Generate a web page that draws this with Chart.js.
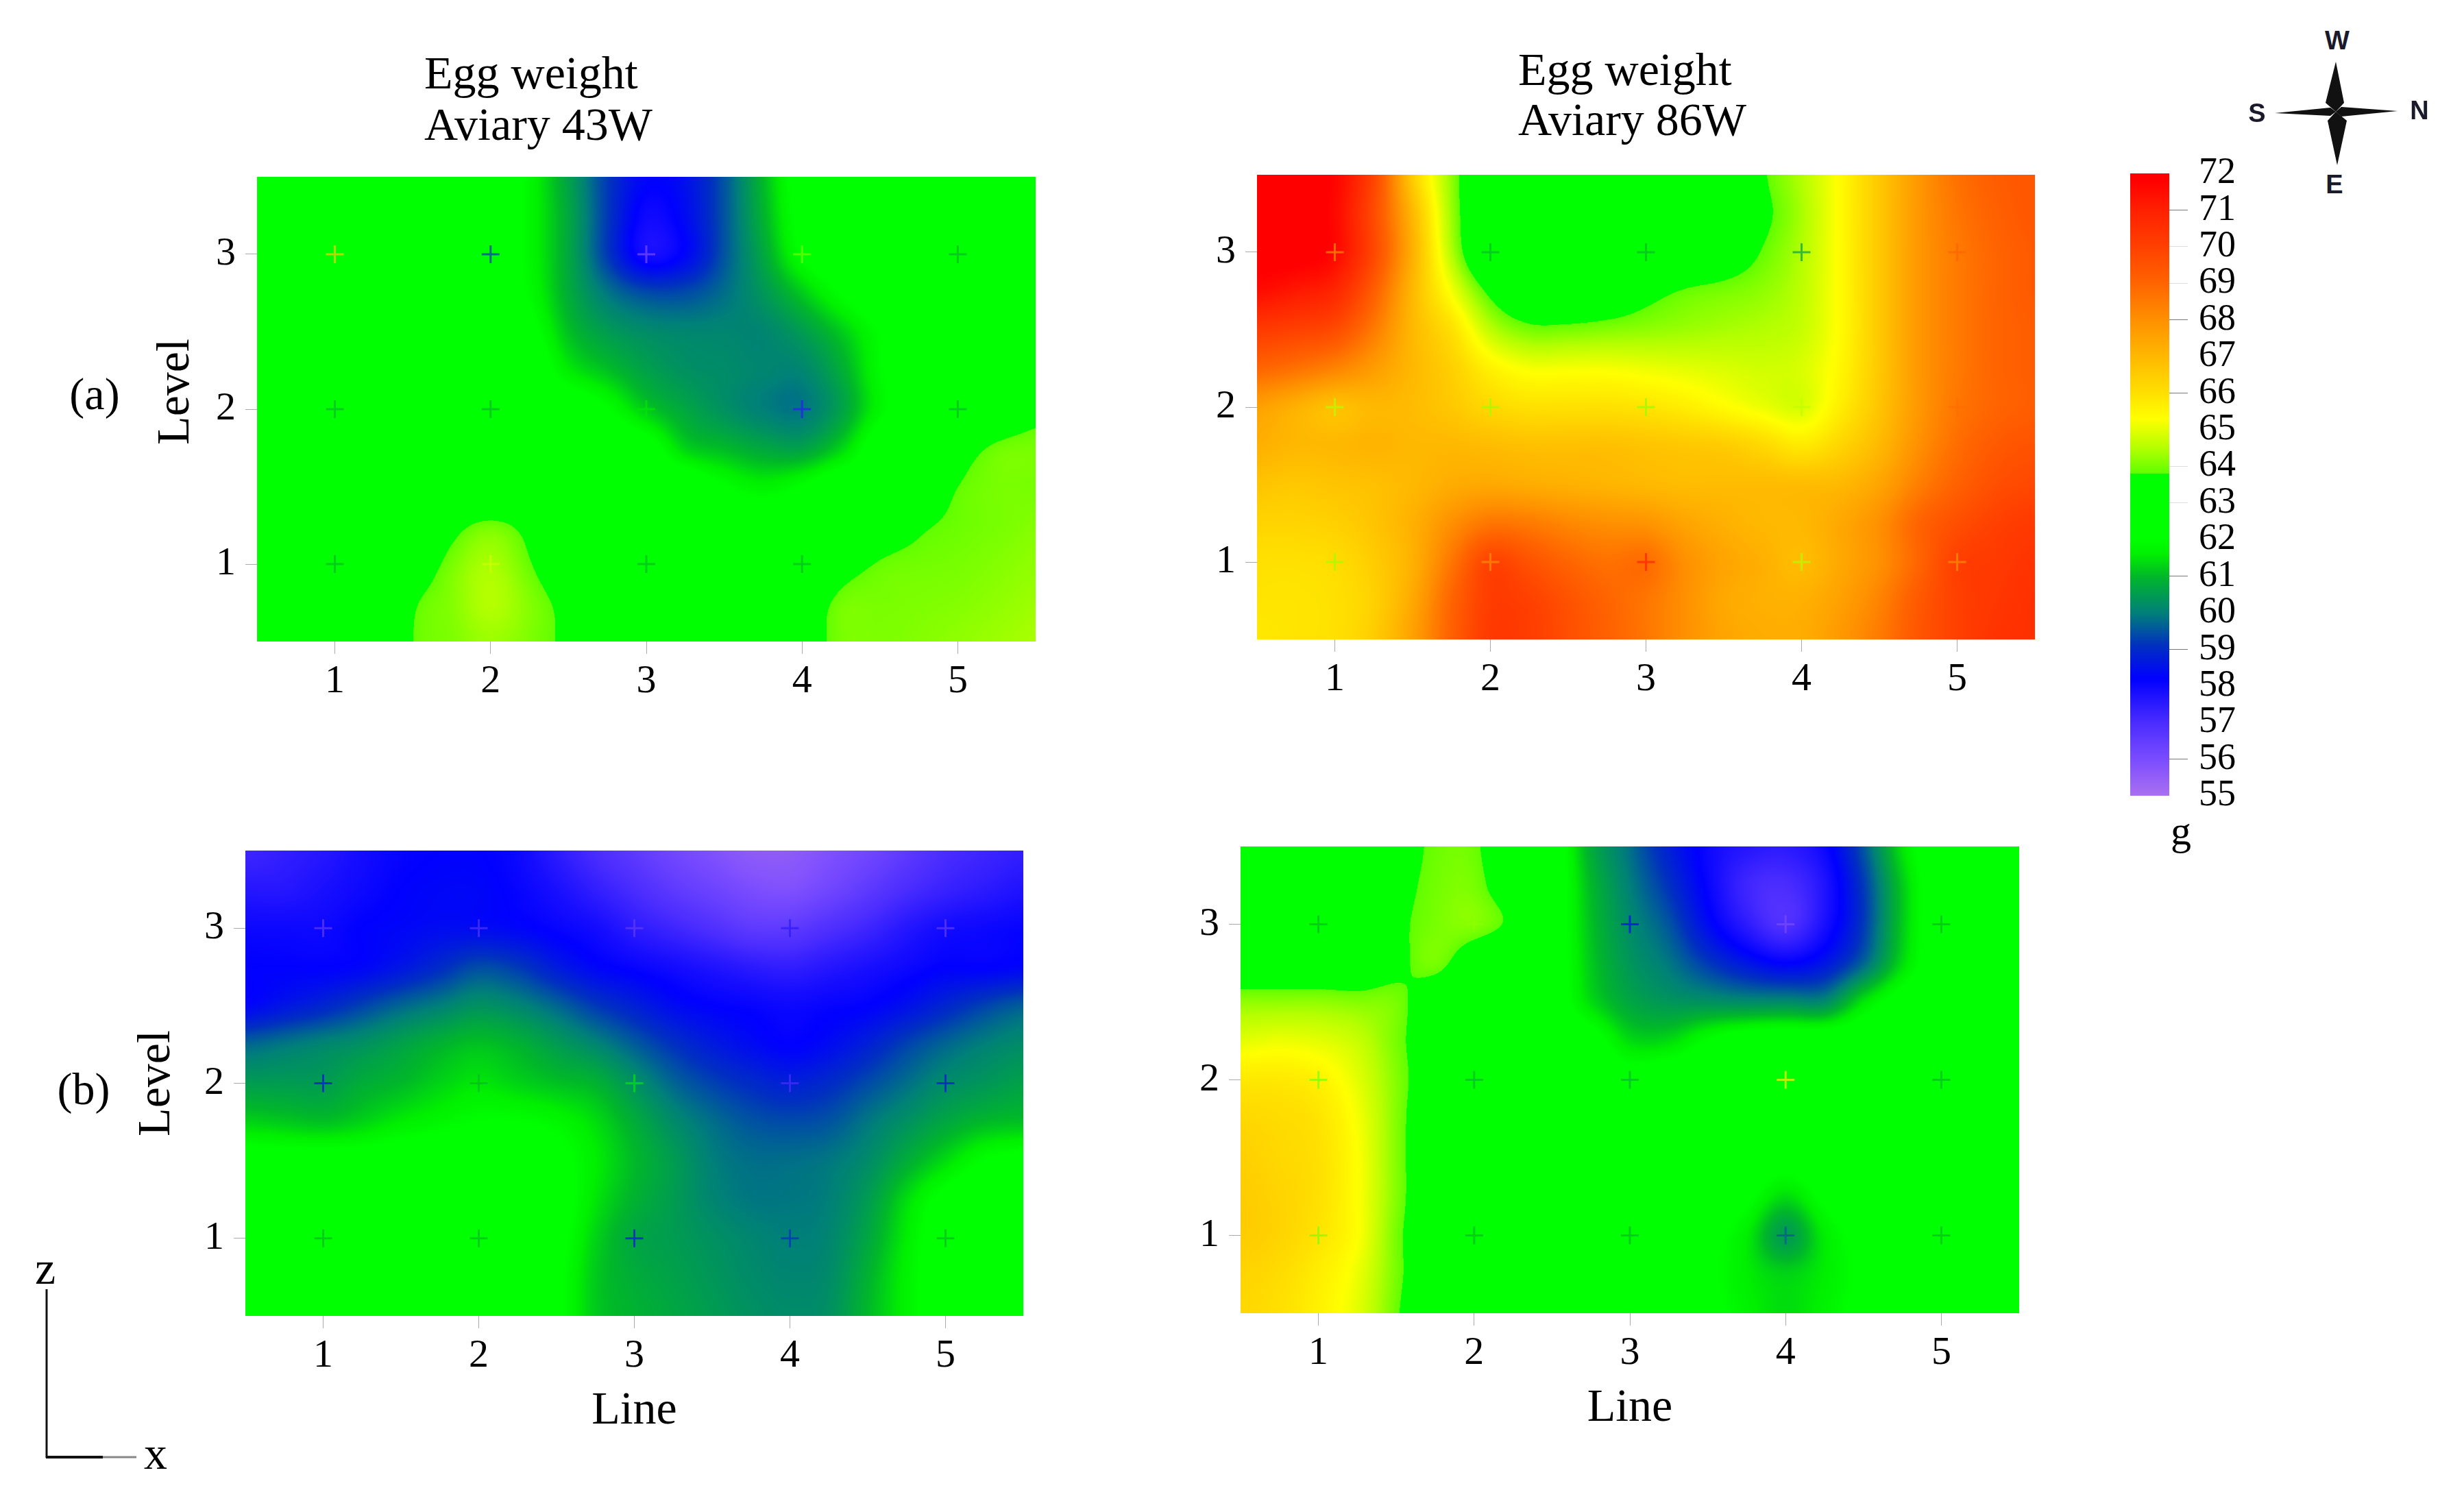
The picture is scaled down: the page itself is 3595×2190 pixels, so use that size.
<!DOCTYPE html>
<html>
<head>
<meta charset="utf-8">
<title>Egg weight</title>
<script src="https://cdn.jsdelivr.net/npm/chart.js@4/dist/chart.umd.min.js"></script>
<style>
  html, body { margin: 0; background: #fff; }
  body { position: relative; width: 3595px; height: 2190px; overflow: hidden; font-family: "Liberation Serif", serif; color: #000; }
  canvas { position: absolute; }
  .label { position: absolute; white-space: nowrap; line-height: 1; transform: translateY(-50%); }
  .center { transform: translate(-50%, -50%); }
  .compass { font-family: "Liberation Sans", sans-serif; font-weight: bold; font-size: 38px; color: #1a1a2a; }
  svg { position: absolute; left: 0; top: 0; }
</style>
</head>
<body>
<svg width="3595" height="2190">
  <!-- compass star -->
  <polygon points="3319,165 3400,157 3408,163 3400,169" fill="#111"/>
  <polygon points="3498,162 3416,156 3408,163 3416,170" fill="#111"/>
  <polygon points="3408,90 3393,150 3408,163 3420,150" fill="#111"/>
  <polygon points="3410,241 3396,176 3408,163 3424,176" fill="#111"/>
  <!-- z / x orientation sign -->
  <line x1="68" y1="1881" x2="68" y2="2127" stroke="#111" stroke-width="3"/>
  <line x1="67" y1="2126" x2="150" y2="2126" stroke="#111" stroke-width="4"/>
  <line x1="150" y1="2126" x2="199" y2="2126" stroke="#888" stroke-width="3"/>
</svg>
<canvas id="panelA"></canvas>
<canvas id="panelB"></canvas>
<canvas id="panelC"></canvas>
<canvas id="panelD"></canvas>
<canvas id="legendBar"></canvas>
<script>
const lineTicks = [1, 2, 3, 4, 5];
const levelTicks = [1, 2, 3];
const legendTicks = [55, 56, 57, 58, 59, 60, 61, 62, 63, 64, 65, 66, 67, 68, 69, 70, 71, 72];

// colour bar: g -> colour
const legendStops = [
  [55, '#aa70f0'], [56, '#7a4cff'], [57, '#4a2cff'], [58.2, '#0000ff'], [59.1, '#0030c0'],
  [60, '#008078'], [61, '#00b828'], [61.6, '#00f000'], [62, '#00ff00'], [63.8, '#00ff00'],
  [63.81, '#60ff00'], [64.5, '#b4ff00'], [65.3, '#ffff00'], [66, '#ffe000'], [67, '#ffb800'],
  [68, '#ff9000'], [69, '#ff6400'], [70, '#ff4000'], [71, '#ff2000'], [71.8, '#ff0000'], [72, '#ff0000']
];

// sampling positions of the surfaces below (columns = line, rows = level, top row first)
const gridLines = [0.5, 0.75, 1, 1.25, 1.5, 1.75, 2, 2.25, 2.5, 2.75, 3, 3.25, 3.5, 3.75, 4, 4.25, 4.5, 4.75, 5, 5.25, 5.5];
const gridLevels = [3.5, 3.25, 3, 2.75, 2.5, 2.25, 2, 1.75, 1.5, 1.25, 1, 0.75, 0.5];

// surface, g
const surfaceA = [
  [63.8,63.2,62.6,62.5,62.5,62.5,62.5,61.8,60.6,59.2,58.3,58.5,59.5,61.0,62.3,62.5,62.5,62.5,62.5,62.5,62.5],
  [62.8,62.5,62.5,62.5,62.5,62.5,62.5,61.8,60.7,59.2,58.0,58.4,59.5,60.9,62.2,62.5,62.5,62.5,62.5,62.5,62.5],
  [62.5,62.5,62.5,62.5,62.5,62.5,62.5,61.8,60.7,59.2,57.9,58.3,59.5,60.7,62.0,62.5,62.5,62.5,62.5,62.5,62.5],
  [62.5,62.5,62.5,62.5,62.5,62.5,62.5,61.9,60.8,59.9,59.4,59.4,59.8,60.4,61.2,62.0,62.5,62.5,62.5,62.5,62.5],
  [62.5,62.5,62.5,62.5,62.5,62.5,62.5,62.2,61.1,60.5,60.2,60.1,60.1,60.1,60.5,61.2,62.0,62.5,62.5,62.5,62.5],
  [62.5,62.5,62.5,62.5,62.5,62.5,62.5,62.5,61.6,61.1,60.6,60.3,60.2,60.1,60.1,60.8,61.9,62.5,62.5,62.5,62.5],
  [62.5,62.5,62.5,62.5,62.5,62.5,62.5,62.5,62.5,62.0,61.2,60.7,60.3,60.0,59.9,60.6,61.8,62.5,62.5,63.0,63.5],
  [62.5,62.5,62.5,62.5,62.5,62.5,62.5,62.5,62.5,62.5,62.3,61.3,61.0,60.7,60.6,61.3,62.4,62.6,63.4,63.9,64.0],
  [62.5,62.5,62.5,62.5,62.5,62.5,62.5,62.5,62.5,62.5,62.5,62.5,62.0,61.7,62.0,62.5,62.5,63.2,63.8,64.0,64.0],
  [62.5,62.5,62.5,62.5,62.5,63.5,63.95,63.5,62.5,62.5,62.5,62.5,62.5,62.5,62.5,62.5,63.2,63.7,63.9,64.0,64.1],
  [62.5,62.5,62.5,62.5,63.2,64.0,64.4,63.85,63.0,62.5,62.5,62.5,62.5,62.5,62.5,63.4,63.85,63.95,64.0,64.1,64.2],
  [62.5,62.5,62.5,62.5,63.7,64.1,64.5,64.1,63.5,62.5,62.5,62.5,62.5,62.5,63.2,63.95,64.0,64.05,64.1,64.2,64.3],
  [62.5,62.5,62.5,62.5,63.8,64.05,64.3,64.05,63.6,62.5,62.5,62.5,62.5,63.0,63.4,64.0,64.05,64.1,64.2,64.3,64.4]
];
const surfaceB = [
  [72,72,71.7,69.9,66.5,64.2,62.5,62.5,62.5,62.5,62.5,62.5,62.5,63.7,64.5,65.4,66.6,67.8,68.7,69.2,69.4],
  [72,72,71.6,69.7,67,64.3,62.5,62.5,62.5,62.5,62.5,62.5,62.8,63.6,64.4,65.4,66.6,67.8,68.6,69.1,69.4],
  [72,72,71.6,69.8,67.2,64.5,62.5,62.5,62.5,62.5,62.5,62.8,63.2,63.85,64.5,65.4,66.6,67.8,68.5,69,69.3],
  [71.5,71.2,70.8,69.2,67,65.2,63.6,62.8,62.7,63,63.5,63.85,64,64.2,64.6,65.4,66.6,67.8,68.5,69,69.3],
  [70.2,70,69.7,68.5,67,66,64.6,64,64,64.1,64.2,64.3,64.4,64.5,64.7,65.4,66.6,67.8,68.5,69,69.2],
  [69,68.7,68.3,67.7,67,66.4,65.6,65.2,65.2,65.2,65.1,65,64.9,64.8,64.9,65.5,66.6,67.8,68.5,69,69.2],
  [67.6,67.2,66.8,67,66.9,66.6,66.2,66,66,66,65.9,65.7,65.4,65.1,64.9,65.7,66.7,67.8,68.6,69,69.2],
  [67.2,67,67,67.1,67,67,66.9,66.8,66.8,66.8,66.7,66.6,66.5,66.2,65.8,66.3,67,68,68.8,69.3,69.5],
  [66.7,66.6,66.7,66.8,67,67.3,67.4,67.3,67.2,67.1,67,66.9,66.9,66.9,66.9,67,67.5,68.4,69.1,69.6,69.8],
  [66.3,66.3,66.4,66.7,67.2,68,68.6,68.5,68.2,68,67.9,67.5,67.2,67,67,67.4,68,69,69.6,70,70.2],
  [66,66,66.1,66.5,67.2,68.6,69.9,69.5,69,68.7,68.8,68,67.5,67.2,66.9,67.4,68,69,70,70.2,70.4],
  [65.9,65.9,66,66.4,67.4,69,70.1,70,69.5,69,68.6,68,67.4,67.2,67.2,67.6,68.3,69.3,70,70.3,70.5],
  [65.8,65.9,66,66.5,67.6,69.1,70.2,70.1,69.6,69.1,68.6,68,67.5,67.3,67.3,67.8,68.5,69.4,70,70.4,70.5]
];
const surfaceC = [
  [57.2,57.4,57.6,57.9,58.1,58.2,58.2,58,57.5,57,56.6,56.2,55.9,55.6,55.6,55.9,56.2,56.6,57,57.2,57.4],
  [57.6,57.6,57.8,58,58.2,58.3,58.3,58.1,57.8,57.4,57,56.6,56.3,56,55.9,56.2,56.6,57,57.3,57.5,57.7],
  [58,58,58,58.2,58.3,58.4,58.4,58.3,58.1,57.9,57.5,57.2,56.9,56.6,56.6,56.9,57.2,57.6,57.9,58,58.1],
  [58.2,58.2,58.2,58.3,58.6,59,59.4,59.2,58.7,58.3,58.1,57.9,57.7,57.5,57.4,57.6,57.8,58,58.2,58.2,58.3],
  [58.3,58.6,58.9,59.3,59.7,60,60.3,60.1,59.7,59.2,58.8,58.4,58.2,58.1,58,58.1,58.2,58.5,58.9,59.3,59.6],
  [59.7,59.9,60.1,60.3,60.6,60.9,61.1,60.9,60.5,60.1,59.6,59.1,58.7,58.4,58.2,58.4,58.8,59.3,59.7,60,60.2],
  [60.5,60.5,60.5,60.8,61,61.3,61.5,61.3,61.1,60.9,60.3,59.7,59.3,59,58.8,59,59.4,59.8,60.2,60.4,60.6],
  [61.3,61.2,61.1,61.3,61.6,61.8,62,62,61.8,61.4,60.8,60.2,59.8,59.5,59.4,59.5,59.9,60.3,60.7,61,61.1],
  [62.3,62.3,62.3,62.3,62.4,62.5,62.5,62.5,62.2,61.6,61,60.5,60,59.8,59.8,59.9,60.2,60.8,61.4,62,62.2],
  [62.5,62.5,62.5,62.5,62.5,62.5,62.5,62.5,62.3,61.5,60.9,60.5,60.1,59.9,59.9,60,60.5,61.4,62.2,62.5,62.5],
  [62.5,62.5,62.5,62.5,62.5,62.5,62.5,62.5,62.2,61.3,60.7,60.5,60.3,60.1,60,60.1,60.7,61.6,62.4,62.5,62.5],
  [62.5,62.5,62.5,62.5,62.5,62.5,62.5,62.5,62.1,61.2,60.8,60.6,60.4,60.2,60.1,60.2,60.9,61.7,62.4,62.5,62.5],
  [62.5,62.5,62.5,62.5,62.5,62.5,62.5,62.5,62.1,61.2,60.9,60.7,60.5,60.3,60.2,60.3,61,61.7,62.4,62.5,62.5]
];
const surfaceD = [
  [62.5,62.5,62.5,62.5,63.4,63.9,63.9,63,62.5,60.8,59.8,58.8,58,57.6,57.5,58,59.5,61.5,62.5,62.5,62.5],
  [62.5,62.5,62.5,62.5,63.5,63.95,64,63.2,62.5,61,60,59.1,58.1,57.2,57,57.7,59.2,61.2,62.5,62.5,62.5],
  [62.5,62.5,62.5,62.5,63.6,64,64.1,63.6,62.5,61.1,60.2,59.5,58.4,57.5,56.9,57.8,59.2,61.2,62.5,62.5,62.5],
  [63,63,63,63,63.6,64,63.2,62.6,62.4,61.2,60.4,59.9,59.2,58.6,58.2,58.6,59.7,61.4,62.5,62.5,62.5],
  [64.2,64.2,64.2,64.1,64,63.2,62.5,62.5,62.4,61.4,60.7,60.4,60.3,60.2,60.2,60.2,61.5,62.3,62.5,62.5,62.5],
  [65,65.1,65,64.7,64,63.2,62.5,62.5,62.5,62.3,61.4,61.4,62,62.4,62.5,62.5,62.5,62.5,62.5,62.5,62.5],
  [65.8,65.8,65.6,65,64.1,63.2,62.5,62.5,62.5,62.5,62.3,62.5,62.5,62.5,62.5,62.5,62.5,62.5,62.5,62.5,62.5],
  [66.2,66.1,65.9,65.2,64.1,63,62.5,62.5,62.5,62.5,62.5,62.5,62.5,62.5,62.5,62.5,62.5,62.5,62.5,62.5,62.5],
  [66.4,66.2,66,65.3,64.1,63,62.5,62.5,62.5,62.5,62.5,62.5,62.5,62.5,62.3,62.5,62.5,62.5,62.5,62.5,62.5],
  [66.5,66.3,66,65.3,64.1,63,62.5,62.5,62.5,62.5,62.5,62.5,62.5,62.1,61.4,62.1,62.5,62.5,62.5,62.5,62.5],
  [66.5,66.3,65.9,65.3,64,63,62.5,62.5,62.5,62.5,62.5,62.5,62.2,61.6,60.5,61.6,62.2,62.5,62.5,62.5,62.5],
  [66.3,66.1,65.7,65.1,64,63,62.5,62.5,62.5,62.5,62.5,62.5,62.1,61.6,61.3,61.6,62.1,62.5,62.5,62.5,62.5],
  [66.2,66,65.6,65,63.9,62.8,62.5,62.5,62.5,62.5,62.5,62.5,62.2,61.7,61.4,61.7,62.2,62.5,62.5,62.5,62.5]
];

// the + markers, level 3 first, five lines each
const crossesA = [[66.5, 59, 56, 64, 61], [61, 61, 61.5, 57.5, 61], [61, 64.8, 61, 61, 64]];
const crossesB = [[68, 61, 61, 60.5, 69], [64.5, 64.3, 64.2, 64.6, 68.8], [64.3, 68, 71, 64.5, 68]];
const crossesC = [[56.5, 56.8, 56.5, 57.5, 56.5], [58.5, 61, 61.5, 57, 58.5], [61, 61, 58.5, 59, 61]];
const crossesD = [[61, 64.2, 58.3, 56, 61], [64, 61, 61, 65.6, 61], [64, 61, 61, 59.5, 61]];

const serif = 'Liberation Serif';

// free text around the panels: text, x, y, size, extra class
const pageText = [
  ['Egg weight', 619, 106, 68, ''],
  ['Aviary 43W', 619, 181, 68, ''],
  ['Egg weight', 2215, 101, 68, ''],
  ['Aviary 86W', 2215, 174, 68, ''],
  ['(a)', 138, 575, 66, 'center'],
  ['(b)', 122, 1589, 66, 'center'],
  ['g', 3182, 1212, 60, 'center'],
  ['z', 66, 1850, 68, 'center'],
  ['x', 227, 2120, 68, 'center'],
  ['W', 3410, 59, 38, 'center compass'],
  ['S', 3293, 165, 38, 'center compass'],
  ['N', 3530, 161, 38, 'center compass'],
  ['E', 3406, 269, 38, 'center compass']
];
pageText.forEach(function (t) {
  const d = document.createElement('div');
  d.className = 'label ' + t[4];
  d.textContent = t[0];
  d.style.left = t[1] + 'px';
  d.style.top = t[2] + 'px';
  d.style.fontSize = t[3] + 'px';
  document.body.appendChild(d);
});

function hexRgb(h) {
  return [parseInt(h.slice(1, 3), 16), parseInt(h.slice(3, 5), 16), parseInt(h.slice(5, 7), 16)];
}
function colourAt(v) {
  v = Math.max(55, Math.min(72, v));
  for (let i = 1; i < legendStops.length; i++) {
    if (v <= legendStops[i][0]) {
      const a = legendStops[i - 1], b = legendStops[i];
      const t = (v - a[0]) / (b[0] - a[0]);
      const ca = hexRgb(a[1]), cb = hexRgb(b[1]);
      return [0, 1, 2].map(k => Math.round(ca[k] + (cb[k] - ca[k]) * t));
    }
  }
  return hexRgb('#ff0000');
}
const colourTable = [];
for (let i = 0; i <= 1700; i++) colourTable.push(colourAt(55 + i / 100));

// catmull-rom weights, only used to paint smoothly between the read values
function crWeights(t) {
  return [
    0.5 * (-t * t * t + 2 * t * t - t),
    0.5 * (3 * t * t * t - 5 * t * t + 2),
    0.5 * (-3 * t * t * t + 4 * t * t + t),
    0.5 * (t * t * t - t * t)
  ];
}

const surfacePlugin = {
  id: 'surface',
  beforeDatasetsDraw(chart, args, opts) {
    if (!opts.values) return;
    const ctx = chart.ctx, area = chart.chartArea, xs = chart.scales.x, ys = chart.scales.y;
    const w = Math.round(area.width), h = Math.round(area.height);
    const img = ctx.createImageData(w, h);
    const grid = opts.values, nx = gridLines.length, ny = gridLevels.length;
    const dx = gridLines[1] - gridLines[0], dy = gridLevels[0] - gridLevels[1];
    const colW = [], colI = [];
    for (let px = 0; px < w; px++) {
      const u = Math.min(nx - 1.0001, Math.max(0, (xs.getValueForPixel(area.left + px + 0.5) - gridLines[0]) / dx));
      colI.push(Math.floor(u));
      colW.push(crWeights(u - Math.floor(u)));
    }
    let p = 0;
    for (let py = 0; py < h; py++) {
      const u = Math.min(ny - 1.0001, Math.max(0, (gridLevels[0] - ys.getValueForPixel(area.top + py + 0.5)) / dy));
      const j = Math.floor(u), wy = crWeights(u - j);
      for (let px = 0; px < w; px++) {
        const i = colI[px], wx = colW[px];
        let v = 0;
        for (let b = 0; b < 4; b++) {
          const row = grid[Math.min(ny - 1, Math.max(0, j + b - 1))];
          for (let a = 0; a < 4; a++) {
            v += wy[b] * wx[a] * row[Math.min(nx - 1, Math.max(0, i + a - 1))];
          }
        }
        const c = colourTable[Math.max(0, Math.min(1700, Math.round((v - 55) * 100)))];
        img.data[p++] = c[0];
        img.data[p++] = c[1];
        img.data[p++] = c[2];
        img.data[p++] = 255;
      }
    }
    ctx.putImageData(img, Math.round(area.left), Math.round(area.top));
  }
};

function crossPoints(rows) {
  const pts = [];
  rows.forEach(function (row, r) {
    row.forEach(function (g, c) {
      pts.push({ x: lineTicks[c], y: levelTicks[levelTicks.length - 1 - r], g: g });
    });
  });
  return pts;
}

function drawPanel(id, plot, values, crosses, levelTitle, levelPad, hasLine) {
  // margins are wide enough that chart.js does not pull the plot in for its tick labels
  const marginLeft = 300, marginTop = 80, marginRight = 30, marginBottom = 200;
  const canvas = document.getElementById(id);
  canvas.width = marginLeft + plot.width + marginRight;
  canvas.height = marginTop + plot.height + marginBottom;
  canvas.style.left = (plot.left - marginLeft) + 'px';
  canvas.style.top = (plot.top - marginTop) + 'px';
  return new Chart(canvas, {
    type: 'scatter',
    data: {
      datasets: [{
        data: crossPoints(crosses),
        pointStyle: 'cross',
        pointRadius: 13,
        pointBorderWidth: 3,
        pointBorderColor: function (c) {
          const col = colourAt(c.raw.g);
          return 'rgba(' + col[0] + ',' + col[1] + ',' + col[2] + ',0.7)';
        }
      }]
    },
    options: {
      responsive: false,
      animation: false,
      layout: { padding: { top: marginTop, right: marginRight, left: 0, bottom: 0 } },
      plugins: {
        legend: { display: false },
        tooltip: { enabled: false },
        surface: { values: values }
      },
      scales: {
        x: {
          type: 'linear',
          min: 0.5,
          max: 5.5,
          afterBuildTicks: function (s) { s.ticks = lineTicks.map(v => ({ value: v })); },
          afterFit: function (s) { s.height = marginBottom; },
          grid: { drawOnChartArea: false, tickLength: 18, tickColor: '#aaa' },
          border: { display: false },
          ticks: { color: '#000', padding: 6, maxRotation: 0, font: { family: serif, size: 58 } },
          title: {
            display: hasLine,
            text: 'Line',
            color: '#000',
            font: { family: serif, size: 68 },
            padding: { top: 0, bottom: 20 }
          }
        },
        y: {
          type: 'linear',
          min: 0.5,
          max: 3.5,
          afterBuildTicks: function (s) { s.ticks = levelTicks.map(v => ({ value: v })); },
          afterFit: function (s) { s.width = marginLeft; },
          grid: { drawOnChartArea: false, tickLength: 17, tickColor: '#aaa' },
          border: { display: false },
          ticks: { color: '#000', padding: 14, font: { family: serif, size: 58 } },
          title: {
            display: !!levelTitle,
            text: levelTitle,
            color: '#000',
            font: { family: serif, size: 68 },
            padding: { top: levelPad, bottom: 0 }
          }
        }
      }
    },
    plugins: [surfacePlugin]
  });
}

// panel (a) has its Level sitting above the middle of the axis, hence the leading blanks
drawPanel('panelA', { left: 375, top: 258, width: 1136, height: 678 }, surfaceA, crossesA, '\u00A0\u00A0\u00A0Level', 141, false);
drawPanel('panelB', { left: 1834, top: 255, width: 1135, height: 678 }, surfaceB, crossesB, '', 0, false);
drawPanel('panelC', { left: 358, top: 1241, width: 1135, height: 679 }, surfaceC, crossesC, 'Level', 130, true);
drawPanel('panelD', { left: 1810, top: 1235, width: 1136, height: 681 }, surfaceD, crossesD, '', 0, true);

// colour legend, ticks on the right
const legendCanvas = document.getElementById('legendBar');
legendCanvas.width = 57 + 180;
legendCanvas.height = 908 + 160;
legendCanvas.style.left = '3108px';
legendCanvas.style.top = (253 - 80) + 'px';
const strongLegendTicks = [71, 68, 66, 61, 59, 56];
const faintLegendTicks = [70, 69, 64, 63];
new Chart(legendCanvas, {
  type: 'bar',
  data: {
    labels: ['g'],
    datasets: [{
      data: [[55, 72]],
      barPercentage: 1,
      categoryPercentage: 1,
      backgroundColor: function (c) {
        const y = c.chart.scales.y;
        const top = y ? y.getPixelForValue(72) : NaN, bottom = y ? y.getPixelForValue(55) : NaN;
        if (!isFinite(top) || !isFinite(bottom)) return '#00ff00';
        const g = c.chart.ctx.createLinearGradient(0, bottom, 0, top);
        legendStops.forEach(s => g.addColorStop((s[0] - 55) / 17, s[1]));
        return g;
      }
    }]
  },
  options: {
    responsive: false,
    animation: false,
    layout: { padding: { top: 80, bottom: 80, left: 0, right: 0 } },
    plugins: { legend: { display: false }, tooltip: { enabled: false } },
    scales: {
      x: { display: false },
      y: {
        position: 'right',
        min: 55,
        max: 72,
        afterBuildTicks: function (s) { s.ticks = legendTicks.map(v => ({ value: v })); },
        afterFit: function (s) { s.width = 180; },
        border: { display: false },
        grid: {
          drawOnChartArea: false,
          tickLength: 27,
          tickColor: function (c) {
            const v = c.tick.value;
            if (strongLegendTicks.indexOf(v) >= 0) return '#777';
            if (faintLegendTicks.indexOf(v) >= 0) return '#ddd';
            return 'rgba(0,0,0,0)';
          }
        },
        ticks: { color: '#000', padding: 16, autoSkip: false, font: { family: serif, size: 54 } }
      }
    }
  }
});
</script>
</body>
</html>
